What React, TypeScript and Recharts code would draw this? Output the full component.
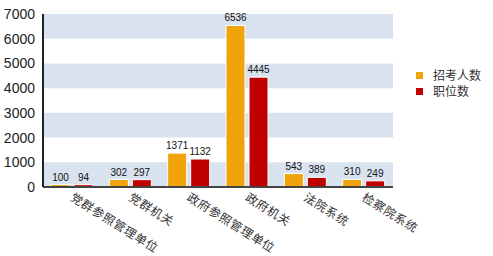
import React from 'react';
import { BarChart, Bar, XAxis, YAxis, ReferenceArea, LabelList } from 'recharts';

const categories = ['党群参照管理单位', '党群机关', '政府参照管理单位', '政府机关', '法院系统', '检察院系统'];
const applicants = [100, 302, 1371, 6536, 543, 310];
const positions = [94, 297, 1132, 4445, 389, 249];
const yTicks = [0, 1000, 2000, 3000, 4000, 5000, 6000, 7000];
const bands: [number, number][] = [[0, 1000], [2000, 3000], [4000, 5000], [6000, 7000]];
const seriesNames = ['招考人数', '职位数'];

const data = categories.map((c, i) => ({ name: c, a: applicants[i], b: positions[i] }));

const COLORS = ['#f0a30a', '#c00000'];

const XTick = (props: any) => {
  const { x, y, payload } = props;
  return (
    <g transform={`translate(${x + 2},${y - 3})`}>
      <text x={0} y={0} dy={9} transform="rotate(32)" textAnchor="start" fontSize={12} letterSpacing={0.6}
        fontFamily="'Noto Sans CJK SC', sans-serif" fill="#333">{payload.value}</text>
    </g>
  );
};

export default function App() {
  return (
    <div style={{ position: 'absolute', left: 0, top: 0, width: 493, height: 256, background: '#fff' }}>
      <BarChart width={493} height={256} data={data} margin={{ top: 14, right: 100, bottom: 0, left: 0 }}
        barSize={19} barGap={4}>
        {bands.map(([y1, y2]) => (
          <ReferenceArea key={y1} y1={y1} y2={y2} fill="#d9e3ef" fillOpacity={1} stroke="none" />
        ))}
        <XAxis dataKey="name" interval={0} tick={<XTick />} tickLine={false}
          axisLine={{ stroke: '#444', strokeWidth: 2 }} height={69} />
        <YAxis domain={[0, 7000]} ticks={yTicks} interval={0} width={43} tickLine={false}
          axisLine={{ stroke: '#222', strokeWidth: 2 }}
          tick={{ fontSize: 14, fill: '#222', fontFamily: "'Liberation Sans', Arial, sans-serif" }} tickMargin={2} />
        <Bar dataKey="a" name={seriesNames[0]} fill={COLORS[0]} stroke="#fff" strokeWidth={1} isAnimationActive={false}>
          <LabelList dataKey="a" position="top" offset={4} fontSize={10} fill="#111"
            fontFamily="'Liberation Sans', Arial, sans-serif" />
        </Bar>
        <Bar dataKey="b" name={seriesNames[1]} fill={COLORS[1]} stroke="#fff" strokeWidth={1} isAnimationActive={false}>
          <LabelList dataKey="b" position="top" offset={4} fontSize={10} fill="#111"
            fontFamily="'Liberation Sans', Arial, sans-serif" />
        </Bar>
      </BarChart>
      <div style={{ position: 'absolute', left: 416, top: 67, fontFamily: "'Noto Sans CJK SC', sans-serif", fontSize: 12, color: '#333', lineHeight: '16px' }}>
        {seriesNames.map((n, i) => (
          <div key={n} style={{ display: 'flex', alignItems: 'center', height: 16 }}>
            <span style={{ display: 'inline-block', width: 7, height: 7, background: COLORS[i], marginRight: 10 }} />
            <span>{n}</span>
          </div>
        ))}
      </div>
    </div>
  );
}
